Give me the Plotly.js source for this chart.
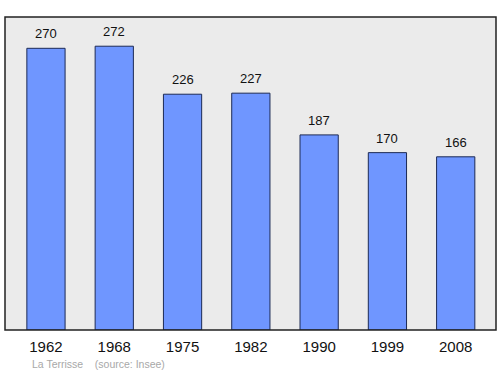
<!DOCTYPE html>
<html><head><meta charset="utf-8">
<script src="https://cdn.plot.ly/plotly-3.0.1.min.js"></script>
<style>body{margin:0;background:#fff}#c{width:500px;height:374px}</style>
</head><body><div id="c"></div>
<script>
const years = ['1962','1968','1975','1982','1990','1999','2008'];
const population = [270, 272, 226, 227, 187, 170, 166];
const commune = 'La Terrisse';
const source = '(source: Insee)';

const trace = {
  type: 'bar', x: years, y: population, width: 0.56,
  marker: {color: '#6f96ff', line: {color: '#1c2a55', width: 1}},
  hoverinfo: 'skip'
};
const annotations = population.map((v, i) => ({
  x: i, y: v, xref: 'x', yref: 'y', text: String(v),
  showarrow: false, yanchor: 'bottom', yshift: 5,
  font: {family: 'Liberation Sans, Arial, sans-serif', size: 13, color: '#111'}
}));
annotations.push({
  xref: 'paper', yref: 'paper', x: 0.05, y: -0.11, xanchor: 'left', yanchor: 'middle',
  text: commune + '    ' + source, showarrow: false,
  font: {family: 'Liberation Sans, Arial, sans-serif', size: 10.5, color: '#a8a8a8'}
});
const layout = {
  width: 500, height: 374,
  margin: {l: 5, r: 4, t: 17, b: 44},
  paper_bgcolor: '#ffffff', plot_bgcolor: '#ebebeb',
  showlegend: false,
  xaxis: {type: 'category', range: [-0.6, 6.59], showgrid: false, zeroline: false,
    ticks: '', showline: false, ticklabelstandoff: 6,
    tickfont: {family: 'Liberation Sans, Arial, sans-serif', size: 15, color: '#111'}},
  yaxis: {range: [0, 300], showgrid: false, zeroline: false, showticklabels: false, ticks: ''},
  annotations: annotations,
  shapes: [{type: 'rect', xref: 'paper', yref: 'paper', x0: 0, x1: 1, y0: 0, y1: 1,
    line: {color: '#222', width: 1.5}}]
};
Plotly.newPlot('c', [trace], layout, {staticPlot: true, displayModeBar: false});
</script></body></html>
